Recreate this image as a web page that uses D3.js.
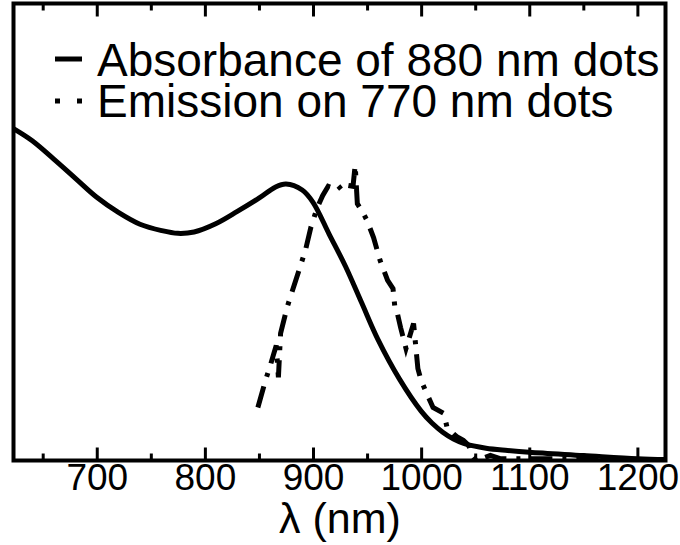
<!DOCTYPE html>
<html>
<head>
<meta charset="utf-8">
<script src="https://cdn.jsdelivr.net/npm/d3@7"></script>
<style>
  html, body { margin: 0; padding: 0; background: #fff; }
  svg { display: block; }
  text { font-family: "Liberation Sans", Arial, Helvetica, sans-serif; fill: #000; }
</style>
</head>
<body>
<svg id="chart" width="680" height="545"></svg>
<script>
// ---- data ----
const absLambda = [623, 640, 660, 680, 700, 720, 740, 760, 775, 790, 810, 830, 850, 865, 875, 890, 900, 915, 930, 945, 960, 980, 1000, 1010, 1020, 1030, 1040, 1060, 1080, 1100, 1150, 1200, 1227];
const absValue  = [0.726, 0.700, 0.660, 0.618, 0.576, 0.543, 0.517, 0.503, 0.497, 0.500, 0.518, 0.545, 0.574, 0.598, 0.605, 0.592, 0.565, 0.495, 0.425, 0.345, 0.265, 0.178, 0.108, 0.082, 0.062, 0.047, 0.037, 0.027, 0.022, 0.018, 0.011, 0.004, 0.002];

const emLambda = [849, 856, 861, 866, 868, 870, 876, 884, 887, 893, 898, 904, 909, 914, 919, 923, 927, 932, 937, 939, 941, 946, 950, 956, 962, 969, 974, 976, 978, 981, 986, 993, 997, 1000, 1004, 1011, 1021, 1024, 1030, 1033, 1039, 1044, 1047, 1051, 1064, 1073, 1110, 1166, 1221];
const emValue  = [0.116, 0.175, 0.212, 0.252, 0.182, 0.278, 0.335, 0.394, 0.416, 0.460, 0.510, 0.554, 0.580, 0.600, 0.595, 0.602, 0.591, 0.602, 0.600, 0.646, 0.562, 0.543, 0.525, 0.488, 0.438, 0.394, 0.376, 0.328, 0.322, 0.291, 0.245, 0.300, 0.201, 0.175, 0.153, 0.116, 0.103, 0.072, 0.058, 0.052, 0.044, 0.033, 0.011, 0.000, 0.011, 0.004, 0.004, 0.002, 0.000];

const majorTicks = [700, 800, 900, 1000, 1100, 1200];
const minorTicks = [650, 750, 850, 950, 1050, 1150];
const tickLabels = ["700", "800", "900", "1000", "1100", "1200"];

const seriesNames = ["Absorbance of 880 nm dots", "Emission on 770 nm dots"];
const xTitle = "λ (nm)";

// ---- layout ----
const pL = 13.5, pR = 665.5, pT = 3.5, pB = 460.5;
const svg = d3.select("#chart");

const x = d3.scaleLinear().domain([623, 1226]).range([pL, pR]);
const y = d3.scaleLinear().domain([0, 1]).range([pB, pT]);

// clip
svg.append("defs").append("clipPath").attr("id", "clip")
  .append("rect").attr("x", pL).attr("y", pT).attr("width", pR - pL).attr("height", pB - pT);

const absData = absLambda.map((l, i) => [l, absValue[i]]);
const emData = emLambda.map((l, i) => [l, emValue[i]]);

const lineSmooth = d3.line().x(d => x(d[0])).y(d => y(d[1])).curve(d3.curveCatmullRom.alpha(0.5));
const lineRaw = d3.line().x(d => x(d[0])).y(d => y(d[1]));

const plot = svg.append("g").attr("clip-path", "url(#clip)");
plot.append("path").datum(absData).attr("d", lineSmooth)
  .attr("fill", "none").attr("stroke", "#000").attr("stroke-width", 5).attr("stroke-linejoin", "round");
plot.append("path").datum(emData).attr("d", lineRaw)
  .attr("fill", "none").attr("stroke", "#000").attr("stroke-width", 5)
  .attr("stroke-dasharray", "22,10,4,10").attr("stroke-linejoin", "miter");

// axes
function styleAxis(g) {
  g.select(".domain").remove();
  g.selectAll(".tick line").attr("stroke", "#000").attr("stroke-width", 3);
}
svg.append("g").attr("transform", `translate(0,${pB})`)
  .call(d3.axisBottom(x).tickValues(majorTicks).tickSize(-13).tickPadding(3)
    .tickFormat((d, i) => tickLabels[i]))
  .call(styleAxis)
  .call(g => g.selectAll(".tick text").attr("font-size", 37).attr("font-family", "Liberation Sans, Arial, sans-serif").attr("fill", "#000"));
svg.append("g").attr("transform", `translate(0,${pB})`)
  .call(d3.axisBottom(x).tickValues(minorTicks).tickSize(-7).tickFormat(""))
  .call(styleAxis);
svg.append("g").attr("transform", `translate(0,${pT})`)
  .call(d3.axisTop(x).tickValues(majorTicks).tickSize(-13).tickFormat(""))
  .call(styleAxis);
svg.append("g").attr("transform", `translate(0,${pT})`)
  .call(d3.axisTop(x).tickValues(minorTicks).tickSize(-7).tickFormat(""))
  .call(styleAxis);

// frame
svg.append("rect").attr("x", pL).attr("y", pT).attr("width", pR - pL).attr("height", pB - pT)
  .attr("fill", "none").attr("stroke", "#000").attr("stroke-width", 4);

// x title
svg.append("text").attr("x", 340).attr("y", 533).attr("text-anchor", "middle")
  .attr("font-size", 43).text(xTitle);

// legend
const lg = svg.append("g");
lg.append("line").attr("x1", 55).attr("x2", 82).attr("y1", 59).attr("y2", 59)
  .attr("stroke", "#000").attr("stroke-width", 5);
lg.append("text").attr("x", 97).attr("y", 76).attr("font-size", 46).text(seriesNames[0]);
lg.append("line").attr("x1", 55).attr("x2", 82).attr("y1", 101).attr("y2", 101)
  .attr("stroke", "#000").attr("stroke-width", 5).attr("stroke-dasharray", "5,17,5");
lg.append("text").attr("x", 97).attr("y", 117).attr("font-size", 46).text(seriesNames[1]);
</script>
</body>
</html>
